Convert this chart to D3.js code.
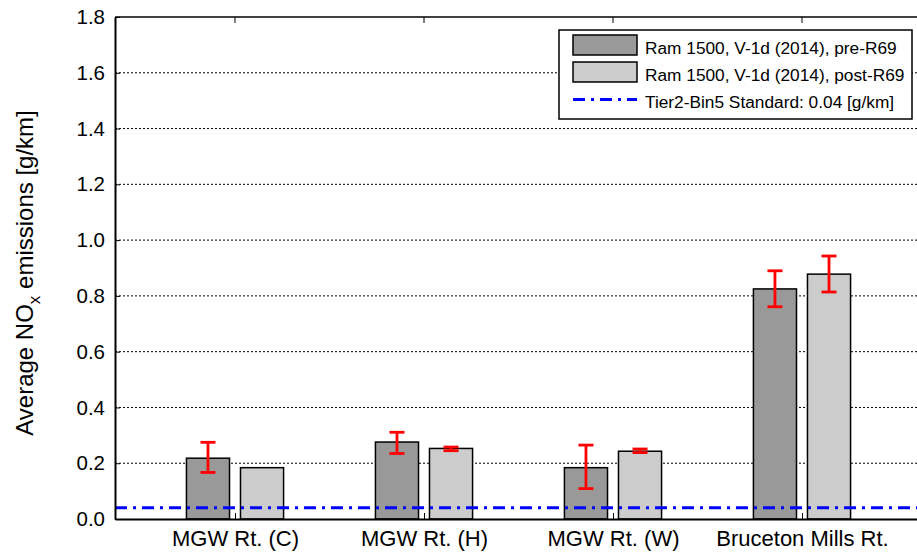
<!DOCTYPE html>
<html>
<head>
<meta charset="utf-8">
<script src="https://cdn.jsdelivr.net/npm/d3@7"></script>
<style>
  body { margin: 0; background: #fff; }
  svg { font-family: "Liberation Sans", Arial, sans-serif; }
</style>
</head>
<body>
<div id="chart"></div>
<script>
// data
const routes = ["MGW Rt. (C)", "MGW Rt. (H)", "MGW Rt. (W)", "Bruceton Mills Rt."];
const preR69 = [0.218, 0.276, 0.184, 0.825];
const preLow = [0.167, 0.235, 0.109, 0.761];
const preHigh = [0.275, 0.311, 0.265, 0.890];
const postR69 = [0.184, 0.253, 0.243, 0.878];
const postLow = [0.184, 0.245, 0.238, 0.814];
const postHigh = [0.184, 0.258, 0.251, 0.943];
const yTicks = [0, 0.2, 0.4, 0.6, 0.8, 1.0, 1.2, 1.4, 1.6, 1.8];
const standard = 0.04;
const seriesNames = ["Ram 1500, V-1d (2014), pre-R69", "Ram 1500, V-1d (2014), post-R69"];

const width = 917, height = 552;
const svg = d3.select("#chart").append("svg")
    .attr("width", width).attr("height", height);

const plotL = 115, plotR = 922, plotT = 17, plotB = 519;

const x = d3.scaleLinear().domain([0.365, 4.635]).range([plotL, plotR]);
const y = d3.scaleLinear().domain([0, 1.8]).range([plotB, plotT]);

const barW = 0.228, off = 0.143;

// grid lines
svg.append("g").selectAll("line")
    .data(yTicks.filter(d => d > 0 && d < 1.8))
    .join("line")
        .attr("x1", plotL).attr("x2", plotR)
        .attr("y1", d => y(d)).attr("y2", d => y(d))
        .attr("stroke", "#000").attr("stroke-width", 1)
        .attr("stroke-dasharray", "2,2");

// bars
const groups = routes.map((r, i) => ({
    i: i + 1,
    pre: preR69[i], preLo: preLow[i], preHi: preHigh[i],
    post: postR69[i], postLo: postLow[i], postHi: postHigh[i]
}));

const bars = [];
groups.forEach(g => {
    bars.push({ pos: g.i - off, v: g.pre, lo: g.preLo, hi: g.preHi, fill: "#999999" });
    bars.push({ pos: g.i + off, v: g.post, lo: g.postLo, hi: g.postHi, fill: "#cccccc" });
});

svg.append("g").selectAll("rect")
    .data(bars)
    .join("rect")
        .attr("x", d => x(d.pos - barW / 2))
        .attr("width", d => x(barW) - x(0))
        .attr("y", d => y(d.v))
        .attr("height", d => y(0) - y(d.v))
        .attr("fill", d => d.fill)
        .attr("stroke", "#000").attr("stroke-width", 1.5);

// error bars
const eb = svg.append("g").attr("stroke", "#ff0000").attr("stroke-width", 2.8);
bars.filter(d => d.hi - d.lo > 0).forEach(d => {
    const cx = x(d.pos);
    eb.append("line").attr("x1", cx).attr("x2", cx).attr("y1", y(d.lo)).attr("y2", y(d.hi));
    eb.append("line").attr("x1", cx - 7.5).attr("x2", cx + 7.5).attr("y1", y(d.lo)).attr("y2", y(d.lo));
    eb.append("line").attr("x1", cx - 7.5).attr("x2", cx + 7.5).attr("y1", y(d.hi)).attr("y2", y(d.hi));
});

// standard line
svg.append("line")
    .attr("x1", plotL).attr("x2", plotR)
    .attr("y1", y(standard)).attr("y2", y(standard))
    .attr("stroke", "#0000ff").attr("stroke-width", 3)
    .attr("stroke-dasharray", "12,6,3,6");

// axes
const yAxis = svg.append("g")
    .attr("transform", `translate(${plotL},0)`)
    .call(d3.axisLeft(y).tickValues(yTicks).tickFormat(d3.format(".1f")).tickSizeInner(-5).tickSizeOuter(0).tickPadding(10));
yAxis.select(".domain").attr("stroke-width", 2);
yAxis.selectAll("text").attr("font-size", 20.5).attr("fill", "#000")
    .attr("font-family", "Liberation Sans, Arial, sans-serif");

const xAxis = svg.append("g")
    .attr("transform", `translate(0,${plotB})`)
    .call(d3.axisBottom(x).tickValues([1, 2, 3, 4]).tickFormat(d => routes[d - 1]).tickSizeInner(-6).tickSizeOuter(0).tickPadding(11));
xAxis.select(".domain").attr("stroke-width", 2);
xAxis.selectAll("text").attr("font-size", 22).attr("fill", "#000")
    .attr("font-family", "Liberation Sans, Arial, sans-serif");

// top border with ticks
svg.append("line").attr("x1", plotL).attr("x2", plotR).attr("y1", plotT).attr("y2", plotT)
    .attr("stroke", "#000").attr("stroke-width", 1.5);
svg.append("g").selectAll("line")
    .data([1, 2, 3, 4]).join("line")
        .attr("x1", d => x(d)).attr("x2", d => x(d))
        .attr("y1", plotT).attr("y2", plotT + 6)
        .attr("stroke", "#000");

// y label
const yl = svg.append("text")
    .attr("transform", `translate(33,273) rotate(-90)`)
    .attr("text-anchor", "middle")
    .attr("font-size", 24);
yl.append("tspan").text("Average NO");
yl.append("tspan").attr("font-size", 17).attr("dy", 7).text("x");
yl.append("tspan").attr("dy", -7).text(" emissions [g/km]");

// legend
const lg = svg.append("g");
lg.append("rect").attr("x", 559).attr("y", 30).attr("width", 353).attr("height", 89)
    .attr("fill", "#fff").attr("stroke", "#000").attr("stroke-width", 1.5);
const legendItems = [
    { name: seriesNames[0], fill: "#999999", y: 45 },
    { name: seriesNames[1], fill: "#cccccc", y: 72 }
];
legendItems.forEach(d => {
    lg.append("rect").attr("x", 573).attr("y", d.y - 10).attr("width", 64).attr("height", 20)
        .attr("fill", d.fill).attr("stroke", "#000").attr("stroke-width", 1.5);
    lg.append("text").attr("x", 645).attr("y", d.y + 8.5).attr("font-size", 17.3).text(d.name);
});
lg.append("line").attr("x1", 573).attr("x2", 637).attr("y1", 99.5).attr("y2", 99.5)
    .attr("stroke", "#0000ff").attr("stroke-width", 3).attr("stroke-dasharray", "12,6,3,6");
lg.append("text").attr("x", 645).attr("y", 107.5).attr("font-size", 17.3)
    .text("Tier2-Bin5 Standard: 0.04 [g/km]");
</script>
</body>
</html>
